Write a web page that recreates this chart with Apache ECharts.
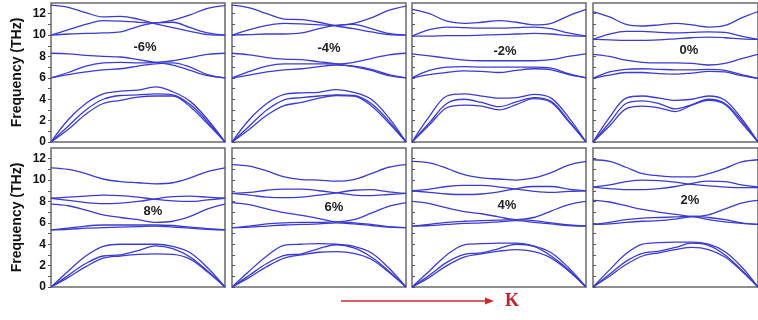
<!DOCTYPE html>
<html><head><meta charset="utf-8">
<script src="https://cdn.jsdelivr.net/npm/echarts@6/dist/echarts.min.js"></script>
<style>html,body{margin:0;padding:0;background:#fff}#c{width:758px;height:320px}</style>
</head><body><div id="c"></div>
<script>
// wave-vector path (normalized Γ -> K)
const kPath = [0, 0.1, 0.2, 0.3, 0.4, 0.5, 0.6, 0.7, 0.8, 0.9, 1.0];
const strainLabels = ['-6%', '-4%', '-2%', '0%', '8%', '6%', '4%', '2%'];
const yTickValues = [0,1,2,3,4,5,6,7,8,9,10,11,12];
const yLabelValues = [0,2,4,6,8,10,12];

// phonon bands (THz), 9 branches per strain
const bandsM6 = [
  [0, 1.2, 2.6, 3.6, 3.9, 4.2, 4.3, 4.3, 3.3, 1.7, 0],
  [0, 1.5, 3.0, 4.0, 4.35, 4.4, 4.5, 4.4, 3.5, 1.9, 0],
  [0, 2.1, 3.6, 4.5, 4.75, 4.85, 5.15, 4.7, 3.8, 2.1, 0],
  [6.0, 6.3, 6.55, 6.75, 6.85, 7.1, 7.3, 7.4, 7.0, 6.3, 6.0],
  [6.0, 6.5, 7.1, 7.4, 7.45, 7.4, 7.45, 7.6, 7.9, 8.2, 8.3],
  [8.3, 8.25, 8.1, 8.0, 7.95, 7.7, 7.45, 7.2, 6.7, 6.2, 6.0],
  [10.0, 10.1, 10.15, 10.2, 10.3, 10.8, 11.15, 11.2, 10.7, 10.2, 10.0],
  [10.0, 10.5, 11.0, 11.35, 11.3, 11.2, 11.15, 11.4, 11.9, 12.5, 12.75],
  [12.8, 12.6, 12.1, 11.7, 11.75, 11.5, 11.05, 10.7, 10.35, 10.05, 10.0]
];
const bandsM4 = [
  [0, 1.2, 2.5, 3.4, 3.7, 4.1, 4.35, 4.3, 3.4, 1.8, 0],
  [0, 1.5, 3.0, 3.95, 4.15, 4.3, 4.4, 4.35, 3.6, 2.0, 0],
  [0, 2.1, 3.6, 4.45, 4.6, 4.65, 4.9, 4.65, 4.0, 2.3, 0],
  [6.0, 6.25, 6.55, 6.75, 6.85, 7.05, 7.2, 7.1, 6.8, 6.3, 6.0],
  [6.0, 6.6, 7.1, 7.3, 7.3, 7.3, 7.3, 7.45, 7.8, 8.15, 8.3],
  [8.3, 8.15, 7.9, 7.75, 7.7, 7.5, 7.3, 7.05, 6.7, 6.2, 6.0],
  [10.0, 10.05, 10.1, 10.1, 10.2, 10.6, 10.9, 11.0, 10.6, 10.15, 10.0],
  [10.0, 10.5, 10.9, 11.1, 11.05, 10.95, 10.9, 11.1, 11.6, 12.3, 12.7],
  [12.8, 12.55, 12.0, 11.5, 11.45, 11.2, 10.85, 10.6, 10.3, 10.05, 10.0]
];
const bandsM2 = [
  [0, 1.6, 3.2, 3.45, 3.35, 3.0, 3.5, 4.05, 3.7, 1.9, 0],
  [0, 1.8, 3.6, 4.0, 3.7, 3.3, 3.75, 4.15, 3.8, 2.0, 0],
  [0, 2.4, 4.3, 4.5, 4.3, 4.1, 4.15, 4.45, 4.1, 2.3, 0],
  [6.0, 6.3, 6.5, 6.65, 6.6, 6.5, 6.7, 6.85, 6.75, 6.3, 6.0],
  [6.0, 6.7, 7.0, 7.05, 7.0, 7.0, 7.0, 7.0, 6.9, 6.4, 6.0],
  [8.25, 8.05, 7.85, 7.65, 7.6, 7.6, 7.6, 7.6, 7.7, 8.0, 8.25],
  [9.9, 9.9, 9.95, 9.95, 10.0, 10.05, 10.1, 10.15, 10.1, 9.95, 9.9],
  [9.9, 10.5, 10.75, 10.7, 10.65, 10.65, 10.7, 10.75, 10.6, 10.2, 9.9],
  [12.4, 12.0, 11.3, 11.1, 11.2, 11.35, 11.2, 10.95, 11.1, 11.8, 12.4]
];
const bands0 = [
  [0, 1.5, 3.1, 3.35, 3.2, 2.85, 3.45, 3.9, 3.5, 1.8, 0],
  [0, 1.8, 3.6, 3.85, 3.6, 3.1, 3.5, 4.0, 3.6, 2.0, 0],
  [0, 2.3, 4.1, 4.3, 4.1, 3.9, 4.0, 4.3, 3.9, 2.2, 0],
  [5.95, 6.25, 6.5, 6.5, 6.4, 6.35, 6.45, 6.6, 6.55, 6.2, 5.95],
  [5.95, 6.55, 6.8, 6.85, 6.8, 6.75, 6.75, 6.8, 6.7, 6.3, 5.95],
  [8.2, 8.0, 7.65, 7.45, 7.4, 7.4, 7.35, 7.2, 7.35, 7.8, 8.2],
  [9.6, 9.55, 9.5, 9.5, 9.55, 9.65, 9.75, 9.8, 9.75, 9.65, 9.6],
  [9.6, 10.1, 10.35, 10.35, 10.25, 10.2, 10.25, 10.3, 10.25, 9.9, 9.6],
  [12.2, 11.7, 11.0, 10.85, 10.95, 11.1, 10.95, 10.75, 10.9, 11.6, 12.2]
];
const bandsP8 = [
  [0, 0.9, 1.9, 2.7, 2.9, 3.05, 3.1, 3.05, 2.6, 1.4, 0],
  [0, 1.1, 2.2, 2.9, 3.0, 3.4, 3.85, 3.6, 2.8, 1.5, 0],
  [0, 1.5, 2.9, 3.8, 4.0, 4.0, 4.0, 3.8, 3.2, 1.8, 0],
  [5.35, 5.4, 5.5, 5.55, 5.6, 5.65, 5.7, 5.6, 5.5, 5.4, 5.35],
  [5.35, 5.5, 5.7, 5.8, 5.8, 5.8, 5.8, 5.75, 5.6, 5.45, 5.35],
  [7.75, 7.6, 7.2, 6.75, 6.5, 6.3, 6.05, 6.15, 6.6, 7.3, 7.75],
  [8.3, 8.1, 7.9, 7.8, 7.85, 8.0, 8.25, 8.45, 8.5, 8.4, 8.3],
  [8.3, 8.4, 8.5, 8.6, 8.55, 8.4, 8.2, 8.05, 8.0, 8.15, 8.3],
  [11.15, 11.0, 10.6, 10.1, 9.85, 9.75, 9.65, 9.75, 10.2, 10.8, 11.15]
];
const bandsP6 = [
  [0, 0.9, 1.9, 2.7, 3.0, 3.25, 3.3, 3.15, 2.6, 1.4, 0],
  [0, 1.1, 2.2, 2.95, 3.1, 3.6, 3.95, 3.65, 2.8, 1.5, 0],
  [0, 1.5, 2.9, 3.9, 4.0, 4.05, 4.0, 3.8, 3.2, 1.8, 0],
  [5.55, 5.6, 5.7, 5.8, 5.85, 5.9, 6.0, 5.9, 5.75, 5.6, 5.55],
  [5.55, 5.7, 5.9, 6.0, 6.05, 6.05, 6.1, 6.0, 5.85, 5.65, 5.55],
  [7.9, 7.7, 7.3, 6.95, 6.7, 6.4, 6.1, 6.3, 6.9, 7.55, 7.9],
  [8.75, 8.6, 8.4, 8.35, 8.4, 8.6, 8.8, 9.05, 9.1, 8.9, 8.75],
  [8.75, 8.85, 9.05, 9.15, 9.15, 9.0, 8.8, 8.6, 8.55, 8.65, 8.75],
  [11.45, 11.3, 10.85, 10.3, 10.05, 10.0, 9.9, 10.05, 10.6, 11.2, 11.45]
];
const bandsP4 = [
  [0, 0.9, 2.0, 2.8, 3.1, 3.35, 3.5, 3.3, 2.7, 1.5, 0],
  [0, 1.1, 2.3, 3.05, 3.2, 3.6, 4.0, 3.8, 2.9, 1.6, 0],
  [0, 1.5, 3.0, 3.95, 4.05, 4.1, 4.1, 3.85, 3.2, 1.8, 0],
  [5.7, 5.75, 5.85, 5.95, 6.0, 6.1, 6.2, 6.05, 5.9, 5.75, 5.7],
  [5.7, 5.85, 6.05, 6.15, 6.2, 6.25, 6.3, 6.2, 6.0, 5.8, 5.7],
  [8.0, 7.8, 7.4, 7.05, 6.85, 6.55, 6.3, 6.5, 7.1, 7.7, 8.0],
  [9.0, 8.85, 8.7, 8.65, 8.7, 8.9, 9.2, 9.4, 9.4, 9.15, 9.0],
  [9.0, 9.15, 9.4, 9.5, 9.5, 9.35, 9.15, 8.95, 8.85, 8.95, 9.0],
  [11.75, 11.6, 11.1, 10.5, 10.2, 10.1, 10.0, 10.2, 10.7, 11.4, 11.75]
];
const bandsP2 = [
  [0, 1.0, 2.1, 2.9, 3.2, 3.5, 3.7, 3.5, 2.8, 1.5, 0],
  [0, 1.2, 2.4, 3.15, 3.35, 3.7, 4.1, 3.9, 3.0, 1.6, 0],
  [0, 1.6, 3.1, 4.0, 4.15, 4.2, 4.2, 4.0, 3.3, 1.9, 0],
  [5.85, 5.9, 6.05, 6.15, 6.2, 6.35, 6.55, 6.3, 6.1, 5.95, 5.85],
  [5.85, 6.05, 6.3, 6.45, 6.5, 6.55, 6.6, 6.5, 6.3, 6.0, 5.85],
  [8.1, 7.95, 7.6, 7.25, 7.0, 6.8, 6.6, 6.75, 7.3, 7.85, 8.1],
  [9.35, 9.2, 9.1, 9.1, 9.2, 9.4, 9.7, 9.9, 9.85, 9.55, 9.35],
  [9.35, 9.55, 9.85, 10.0, 9.95, 9.8, 9.6, 9.45, 9.35, 9.3, 9.3],
  [11.9, 11.75, 11.2, 10.6, 10.4, 10.3, 10.3, 10.6, 11.1, 11.7, 11.9]
];

const panels = [bandsM6, bandsM4, bandsM2, bands0, bandsP8, bandsP6, bandsP4, bandsP2];

const colLeft = [51, 232, 412, 593];
const rowTop = [3, 148];
const lineColor = '#3b3bd0';
const fontSans = "'Liberation Sans', Arial, sans-serif";

const grid = [], xAxis = [], yAxis = [], series = [], graphic = [];
const labelPos = [[145,47],[329,48],[505,51],[689,50],[153,211],[334,207],[507,205],[690,200]];

panels.forEach((bands, i) => {
  const col = i % 4, row = Math.floor(i / 4);
  grid.push({left: colLeft[col], top: rowTop[row], width: 174, height: 139,
    show: true, borderColor: '#6a6a6a', borderWidth: 1.5, backgroundColor: 'transparent'});
  xAxis.push({gridIndex: i, type: 'value', min: 0, max: 1,
    axisLine: {show: false}, axisTick: {show: false}, axisLabel: {show: false}, splitLine: {show: false}});
  const first = col === 0;
  yAxis.push({gridIndex: i, type: 'value', min: 0, max: 13,
    axisLine: {show: false},
    axisTick: {show: true, inside: !first, length: 3, customValues: yTickValues, lineStyle: {color: '#555', width: 1}},
    axisLabel: {show: first, customValues: yLabelValues, color: '#111', fontWeight: 'bold', fontSize: 12, fontFamily: fontSans, margin: 5},
    splitLine: {show: false},
    name: first ? 'Frequency (THz)' : '', nameLocation: 'middle', nameGap: 27, nameRotate: 90,
    nameTextStyle: {color: '#111', fontWeight: 'bold', fontSize: 14, fontFamily: fontSans}
  });
  bands.forEach(b => {
    series.push({type: 'line', xAxisIndex: i, yAxisIndex: i, symbol: 'none', smooth: 0.35,
      data: kPath.map((k, j) => [k, b[j]]),
      lineStyle: {color: lineColor, width: 1.3}, silent: true, animation: false});
  });
  graphic.push({type: 'text', x: labelPos[i][0], y: labelPos[i][1],
    style: {text: strainLabels[i], fill: '#222', font: "bold 13px 'Liberation Sans', Arial, sans-serif", align: 'center', verticalAlign: 'middle'}});
});

graphic.push({type: 'line', shape: {x1: 341, y1: 301, x2: 488, y2: 301}, style: {stroke: '#d0282a', lineWidth: 1.5}});
graphic.push({type: 'polygon', shape: {points: [[494, 301], [485, 297.5], [485, 304.5]]}, style: {fill: '#d0282a'}});
graphic.push({type: 'text', x: 512, y: 301,
  style: {text: 'K', fill: '#c8202a', font: "bold 18px 'Liberation Serif', 'Times New Roman', serif", align: 'center', verticalAlign: 'middle'}});

const chart = echarts.init(document.getElementById('c'), null, {renderer: 'canvas'});
chart.setOption({animation: false, grid, xAxis, yAxis, series, graphic});
</script>
</body></html>
